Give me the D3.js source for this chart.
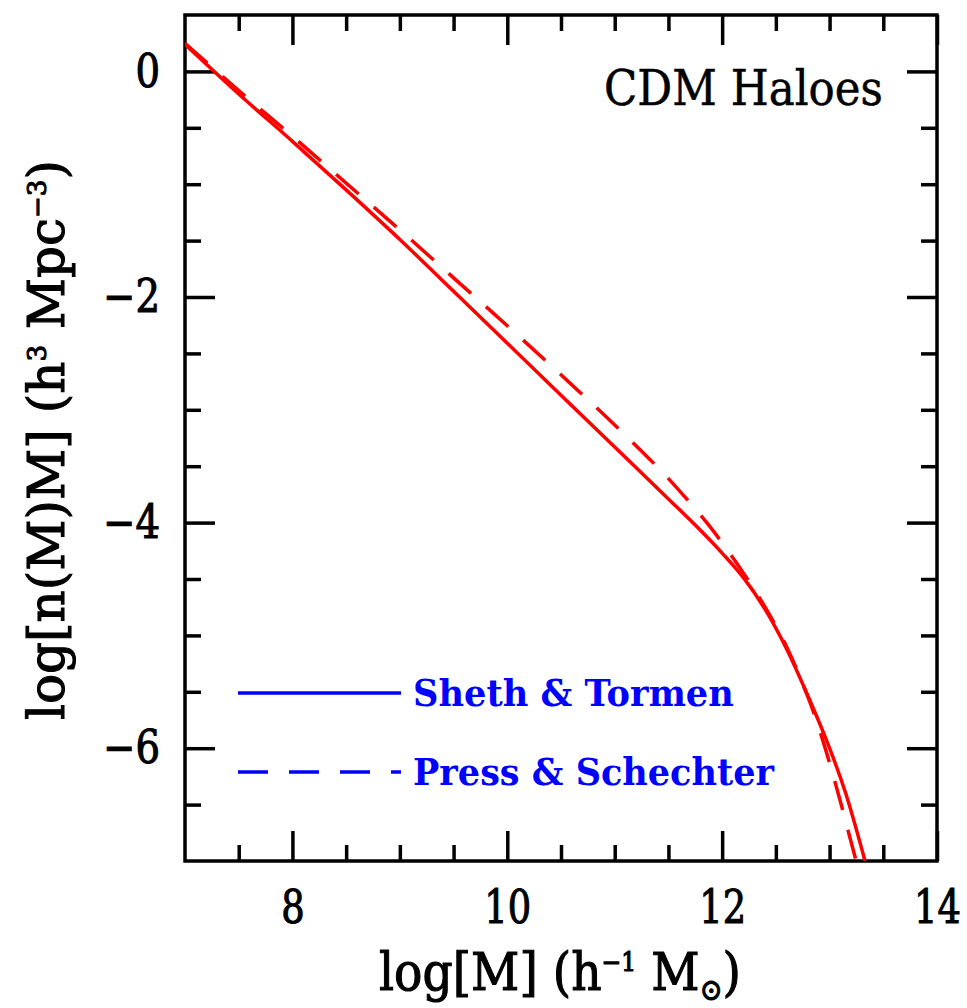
<!DOCTYPE html>
<html lang="en">
<head>
    <meta charset="UTF-8">
    <title>CDM Haloes</title>
    <script src="https://cdn.jsdelivr.net/npm/d3@7/dist/d3.min.js"></script>
    <style>
        body { margin: 0; background: #fff; }
        svg { display: block; }
        .axis line { stroke: #000; stroke-width: 3.5px; }
        .axis text { font-family: "DejaVu Serif", serif; font-size: 46px; fill: #000; stroke: #000; stroke-width: 1.1px; }
        .frame { fill: none; stroke: #000; stroke-width: 3.5px; }
        .curve { fill: none; stroke: #ff0000; stroke-width: 3.5px; }
        .label { font-family: "DejaVu Serif", serif; fill: #000; }
        .thick { stroke: #000; stroke-width: 1.1px; }
    </style>
</head>
<body>
<svg id="chart"></svg>
<script>
    // Sheth & Tormen (solid), log M vs log[n(M)M]
    var stLogM = [7.0, 7.5, 8.0, 8.5, 9.0, 9.5, 10.0, 10.5, 11.0, 11.5, 11.8, 12.0, 12.2, 12.4, 12.6, 12.8, 13.0, 13.15, 13.33];
    var stLogN = [0.24, -0.20, -0.62, -1.05, -1.49, -1.95, -2.41, -2.87, -3.33, -3.79, -4.07, -4.27, -4.49, -4.77, -5.12, -5.54, -6.00, -6.40, -7.0];

    // Press & Schechter (dashed)
    var psLogM = [7.0, 7.5, 8.0, 8.5, 9.0, 9.5, 10.0, 10.5, 11.0, 11.5, 11.89, 12.0, 12.2, 12.4, 12.6, 12.8, 12.9, 13.0, 13.1, 13.2, 13.27];
    var psLogN = [0.25, -0.17, -0.575, -0.99, -1.405, -1.83, -2.255, -2.69, -3.135, -3.61, -4.04, -4.18, -4.45, -4.75, -5.10, -5.55, -5.82, -6.13, -6.47, -6.83, -7.08];

    var xTickLabels = [8, 10, 12, 14];
    var yTickLabels = [0, -2, -4, -6];
    var legendNames = ["Sheth & Tormen", "Press & Schechter"];

    var width = 967, height = 1008;
    var svg = d3.select("#chart").attr("width", width).attr("height", height);

    var plotL = 185, plotR = 937, plotT = 15, plotB = 861;

    var x = d3.scaleLinear().domain([7, 14]).range([plotL, plotR]);
    var y = d3.scaleLinear().domain([-7, 0.5]).range([plotB, plotT]);

    var minorX = d3.range(7.5, 14, 0.5).filter(function (d) { return d % 2 !== 0; });
    var minorY = d3.range(-6.5, 0.5, 0.5).filter(function (d) { return d % 2 !== 0; });

    function noDomain(g) { g.select(".domain").remove(); }

    // ticks, pointing inward on all four sides
    svg.append("g").attr("class", "axis").attr("transform", "translate(0," + plotB + ")")
        .call(d3.axisBottom(x).tickValues(minorX).tickSize(-16).tickFormat("")).call(noDomain);
    svg.append("g").attr("class", "axis").attr("transform", "translate(0," + plotB + ")")
        .call(d3.axisBottom(x).tickValues(xTickLabels).tickSize(-30).tickPadding(29).tickFormat(d3.format("d")))
        .call(noDomain)
        .selectAll("text").attr("transform", "scale(0.8,1)");

    svg.append("g").attr("class", "axis").attr("transform", "translate(0," + plotT + ")")
        .call(d3.axisTop(x).tickValues(minorX).tickSize(-16).tickFormat("")).call(noDomain);
    svg.append("g").attr("class", "axis").attr("transform", "translate(0," + plotT + ")")
        .call(d3.axisTop(x).tickValues(xTickLabels).tickSize(-30).tickFormat("")).call(noDomain);

    svg.append("g").attr("class", "axis").attr("transform", "translate(" + plotL + ",0)")
        .call(d3.axisLeft(y).tickValues(minorY).tickSize(-16).tickFormat("")).call(noDomain);
    svg.append("g").attr("class", "axis").attr("transform", "translate(" + plotL + ",0)")
        .call(d3.axisLeft(y).tickValues(yTickLabels).tickSize(-30).tickPadding(25).tickFormat(d3.format("d")))
        .call(noDomain)
        .selectAll("text").attr("x", -25 / 0.84).attr("transform", "scale(0.84,1)");

    svg.append("g").attr("class", "axis").attr("transform", "translate(" + plotR + ",0)")
        .call(d3.axisRight(y).tickValues(minorY).tickSize(-16).tickFormat("")).call(noDomain);
    svg.append("g").attr("class", "axis").attr("transform", "translate(" + plotR + ",0)")
        .call(d3.axisRight(y).tickValues(yTickLabels).tickSize(-30).tickFormat("")).call(noDomain);

    svg.append("rect").attr("class", "frame")
        .attr("x", plotL).attr("y", plotT).attr("width", plotR - plotL).attr("height", plotB - plotT);

    // curves
    svg.append("clipPath").attr("id", "plot-clip").append("rect")
        .attr("x", plotL).attr("y", plotT).attr("width", plotR - plotL).attr("height", plotB - plotT);

    var line = d3.line()
        .x(function (d) { return x(d[0]); })
        .y(function (d) { return y(d[1]); })
        .curve(d3.curveCatmullRom.alpha(0.5));

    svg.append("path").attr("class", "curve").attr("clip-path", "url(#plot-clip)")
        .attr("d", line(d3.zip(stLogM, stLogN)));
    svg.append("path").attr("class", "curve").attr("clip-path", "url(#plot-clip)")
        .attr("stroke-dasharray", "30,20")
        .attr("d", line(d3.zip(psLogM, psLogN)));

    // squeeze a text horizontally so it spans the given width
    function fit(g, w) {
        var t = g.select("text");
        var bw = t.node().getBBox().width;
        t.attr("transform", "scale(" + (w / bw) + ",1)");
    }

    // x title
    var gx = svg.append("g").attr("transform", "translate(379,990)");
    var tx = gx.append("text").attr("class", "label thick").attr("font-size", 52);
    tx.append("tspan").text("log[M] (h");
    tx.append("tspan").attr("dy", -19).attr("font-size", 26).text("\u22121");
    tx.append("tspan").attr("dy", 19).text(" M");
    tx.append("tspan").attr("dy", 10).attr("font-size", 30).text("\u2299");
    tx.append("tspan").attr("dy", -10).text(")");
    fit(gx, 362);

    // y title
    var gy = svg.append("g").attr("transform", "translate(64,720) rotate(-90)");
    var ty = gy.append("text").attr("class", "label thick").attr("font-size", 50);
    ty.append("tspan").text("log[n(M)M] (h");
    ty.append("tspan").attr("dy", -18).attr("font-size", 26).text("3");
    ty.append("tspan").attr("dy", 18).text(" Mpc");
    ty.append("tspan").attr("dy", -18).attr("font-size", 26).text("\u22123");
    ty.append("tspan").attr("dy", 18).text(")");
    fit(gy, 560);

    // corner label
    var gc = svg.append("g").attr("transform", "translate(604,105)");
    gc.append("text").attr("class", "label").attr("font-size", 48)
        .style("stroke", "#000").style("stroke-width", "0.5px").text("CDM Haloes");
    fit(gc, 279);

    // legend
    var legY = [693, 772];
    var legW = [321, 362];
    var leg = svg.append("g");
    legendNames.forEach(function (name, i) {
        leg.append("line")
            .attr("x1", 238).attr("x2", 401).attr("y1", legY[i]).attr("y2", legY[i])
            .attr("stroke", "#0000ff").attr("stroke-width", 3.5)
            .attr("stroke-dasharray", i === 1 ? "30,21" : null);
        var g = leg.append("g").attr("transform", "translate(413," + (legY[i] + 13) + ")");
        g.append("text").attr("class", "label").attr("font-size", 38).attr("font-weight", "bold")
            .style("fill", "#0000ff").text(name);
        fit(g, legW[i]);
    });
</script>
</body>
</html>
